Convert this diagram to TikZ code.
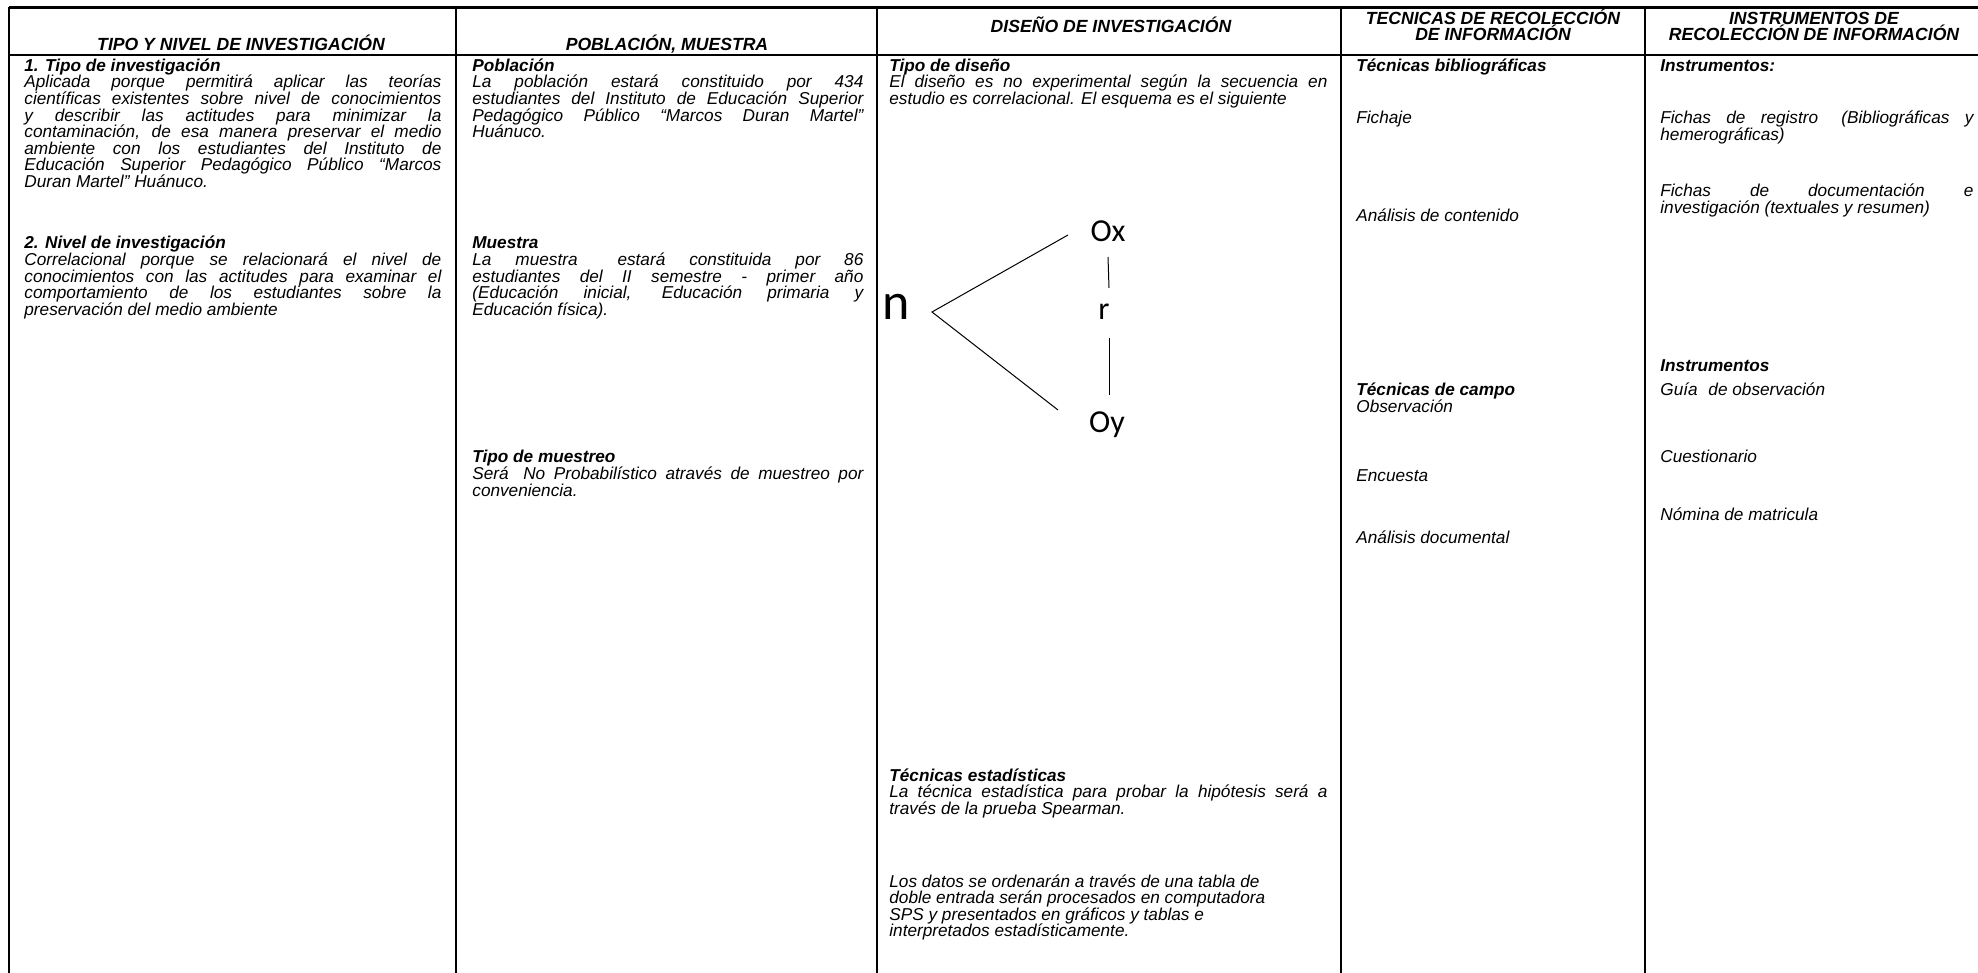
\documentclass[tikz,border=0pt]{standalone}
\usepackage{fontspec}
\setmainfont{Liberation Sans}
\newfontfamily\calib{Carlito}
\newcommand{\jl}[2]{\makebox[#1][s]{#2}}
\tikzset{
  txt/.style={anchor=base west, inner sep=0pt, font=\fontsize{8.6}{10}\selectfont\itshape},
  hd/.style={anchor=base west, inner sep=0pt, font=\fontsize{8.6}{10}\selectfont\bfseries\itshape},
  colhead/.style={anchor=base, inner sep=0pt, font=\fontsize{8.8}{10}\selectfont\bfseries\itshape},
  big/.style={anchor=base, inner sep=0pt, font=\calib\fontsize{26}{28}\selectfont},
  sym/.style={anchor=base, inner sep=0pt, font=\calib\fontsize{16}{18}\selectfont},
  frame/.style={line width=1.3pt},
  divider/.style={line width=1pt},
  headrule/.style={line width=0.85pt},
  thin/.style={line width=0.5pt},
}
\begin{document}
\begin{tikzpicture}[x=0.5pt,y=-0.5pt]
\fill[white] (0,0) rectangle (1978,973);
\useasboundingbox (0,0) rectangle (1978,973);
% table rules
\draw[frame] (9,7.5) -- (1978,7.5);
\draw[frame] (9,7) -- (9,973);
\draw[headrule] (9,55) -- (1978,55);
\draw[divider] (456,7.5) -- (456,973);
\draw[divider] (877,7.5) -- (877,973);
\draw[divider] (1341,7.5) -- (1341,973);
\draw[divider] (1645,7.5) -- (1645,973);
% headers
\node[colhead] (h1) at (241,51) {TIPO Y NIVEL DE INVESTIGACIÓN};
\node[colhead] (h2) at (667,51) {POBLACIÓN, MUESTRA};
\node[colhead] (h3) at (1111,33) {DISEÑO DE INVESTIGACIÓN};
\node[colhead] (h4a) at (1493,24.5) {TECNICAS DE RECOLECCIÓN};
\node[colhead] (h4b) at (1493,41) {DE INFORMACIÓN};
\node[colhead] (h5a) at (1814,24.5) {INSTRUMENTOS DE};
\node[colhead] (h5b) at (1814,41) {RECOLECCIÓN DE INFORMACIÓN};
% column 1
\node[hd] (a1) at (24,71.5) {1. Tipo de investigación};
\node[txt] (a2) at (24,88) {\jl{208.5pt}{Aplicada porque permitirá aplicar las teorías}};
\node[txt] (a3) at (24,104.6) {\jl{208.5pt}{científicas existentes sobre nivel de conocimientos}};
\node[txt] (a4) at (24,121.2) {\jl{208.5pt}{y describir las actitudes para minimizar la}};
\node[txt] (a5) at (24,137.8) {\jl{208.5pt}{contaminación, de esa manera preservar el medio}};
\node[txt] (a6) at (24,154.4) {\jl{208.5pt}{ambiente con los estudiantes del Instituto de}};
\node[txt] (a7) at (24,171) {\jl{208.5pt}{Educación Superior Pedagógico Público “Marcos}};
\node[txt] (a8) at (24,187.6) {Duran Martel” Huánuco.};
\node[hd] (a9) at (24,249) {2. Nivel de investigación};
\node[txt] (a10) at (24,265.6) {\jl{208.5pt}{Correlacional porque se relacionará el nivel de}};
\node[txt] (a11) at (24,282.2) {\jl{208.5pt}{conocimientos con las actitudes para examinar el}};
\node[txt] (a12) at (24,298.8) {\jl{208.5pt}{comportamiento de los estudiantes sobre la}};
\node[txt] (a13) at (24,315.4) {preservación del medio ambiente};
% column 2
\node[hd] (b1) at (472,71.5) {Población};
\node[txt] (b2) at (472,88) {\jl{195.5pt}{La población estará constituido por 434}};
\node[txt] (b3) at (472,104.6) {\jl{195.5pt}{estudiantes del Instituto de Educación Superior}};
\node[txt] (b4) at (472,121.2) {\jl{195.5pt}{Pedagógico Público “Marcos Duran Martel”}};
\node[txt] (b5) at (472,137.8) {Huánuco.};
\node[hd] (b6) at (472,249) {Muestra};
\node[txt] (b7) at (472,265.6) {\jl{195.5pt}{La muestra\hspace{8pt} estará constituida por 86}};
\node[txt] (b8) at (472,282.2) {\jl{195.5pt}{estudiantes del II semestre - primer año}};
\node[txt] (b9) at (472,298.8) {\jl{195.5pt}{(Educación inicial, Educación primaria y}};
\node[txt] (b10) at (472,315.4) {Educación física).};
\node[hd] (b11) at (472,463) {Tipo de muestreo};
\node[txt] (b12) at (472,479.6) {\jl{195.5pt}{Será\hspace{3pt} No Probabilístico através de muestreo por}};
\node[txt] (b13) at (472,496.2) {conveniencia.};
% column 3
\node[hd] (c1) at (889,71.5) {Tipo de diseño};
\node[txt] (c2) at (889,88) {\jl{219pt}{El diseño es no experimental según la secuencia en}};
\node[txt] (c3) at (889,104.6) {estudio es correlacional. El esquema es el siguiente};
\node[big] (dn) at (896,320) {n};
\node[sym] (dox) at (1108,242) {Ox};
\node[sym] (dr) at (1104,320) {r};
\node[sym] (doy) at (1107,433) {Oy};
\coordinate (vx) at (932,312);
\coordinate (ux) at (1068,235);
\coordinate (ly) at (1058,410);
\coordinate (r1) at (1108,257);
\coordinate (r2) at (1109,288);
\coordinate (r3) at (1109,338);
\coordinate (r4) at (1109,395);
\draw[thin] (ux) -- (vx) -- (ly);
\draw[thin] (r1) -- (r2);
\draw[thin] (r3) -- (r4);
\node[hd] (c4) at (889,781) {Técnicas estadísticas};
\node[txt] (c5) at (889,797.6) {\jl{219pt}{La técnica estadística para probar la hipótesis será a}};
\node[txt] (c6) at (889,814.2) {través de la prueba Spearman.};
\node[txt] (c7) at (889,887) {Los datos se ordenarán a través de una tabla de};
\node[txt] (c8) at (889,903.6) {doble entrada serán procesados en computadora};
\node[txt] (c9) at (889,920.2) {SPS y presentados en gráficos y tablas e};
\node[txt] (c10) at (889,936.8) {interpretados estadísticamente.};
% column 4
\node[hd] (d1) at (1356,71.5) {Técnicas bibliográficas};
\node[txt] (d2) at (1356,124) {Fichaje};
\node[txt] (d3) at (1356,222) {Análisis de contenido};
\node[hd] (d4) at (1356,396) {Técnicas de campo};
\node[txt] (d5) at (1356,413) {Observación};
\node[txt] (d6) at (1356,481) {Encuesta};
\node[txt] (d7) at (1356,544) {Análisis documental};
% column 5
\node[hd] (e1) at (1660,71.5) {Instrumentos:};
\node[txt] (e2) at (1660,124) {\jl{156.5pt}{Fichas de registro\hspace{4pt} (Bibliográficas y}};
\node[txt] (e3) at (1660,140.6) {hemerográficas)};
\node[txt] (e4) at (1660,197) {\jl{156.5pt}{Fichas de documentación e}};
\node[txt] (e5) at (1660,213.6) {investigación (textuales y resumen)};
\node[hd] (e6) at (1660,372) {Instrumentos};
\node[txt] (e7) at (1660,396) {Guía\hspace{3pt} de observación};
\node[txt] (e8) at (1660,463) {Cuestionario};
\node[txt] (e9) at (1660,521) {Nómina de matricula};
\end{tikzpicture}
\end{document}
